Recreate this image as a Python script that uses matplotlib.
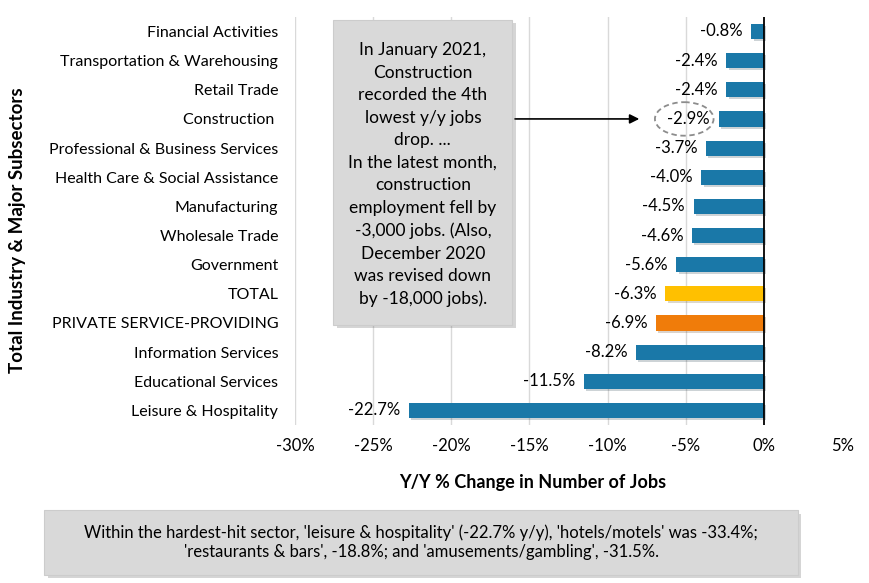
import numpy as np
import matplotlib
matplotlib.use("Agg")
import matplotlib.pyplot as plt
from matplotlib.patches import Rectangle, Ellipse
import matplotlib.patheffects as pe

sectors = ["Financial Activities", "Transportation & Warehousing", "Retail Trade",
           "Construction ", "Professional & Business Services",
           "Health Care & Social Assistance", "Manufacturing", "Wholesale Trade",
           "Government", "TOTAL", "PRIVATE SERVICE-PROVIDING", "Information Services",
           "Educational Services", "Leisure & Hospitality"]
change = [-0.8, -2.4, -2.4, -2.9, -3.7, -4.0, -4.5, -4.6, -5.6, -6.3, -6.9, -8.2, -11.5, -22.7]
xticks = [-30, -25, -20, -15, -10, -5, 0, 5]

blue = "#1a78a8"
colors = [blue] * len(sectors)
colors[sectors.index("TOTAL")] = "#ffc000"
colors[sectors.index("PRIVATE SERVICE-PROVIDING")] = "#f07c0a"

lab_font = "Lato"
box_font = "Lato"

fig = plt.figure(figsize=(8.7, 5.83), dpi=100)
ax = fig.add_axes([0.339, 0.271, 0.629, 0.700])

y = np.arange(len(sectors))
shadow = [pe.SimplePatchShadow(offset=(1.5, -1.5), alpha=0.2), pe.Normal()]
bars = ax.barh(y, change, height=0.52, color=colors, zorder=3)
for b in bars:
    b.set_path_effects(shadow)

for yi, v in zip(y, change):
    ax.text(v - 0.55, yi, f"{v:.1f}%", ha="right", va="center",
            fontsize=12, family=lab_font, zorder=4)

ax.set_xlim(-30, 5)
ax.set_ylim(len(sectors) - 0.5, -0.5)
ax.set_xticks(xticks)
ax.set_xticklabels([f"{t}%" for t in xticks], family=lab_font, fontsize=12)
ax.set_yticks(y)
ax.set_yticklabels(sectors, family=lab_font, fontsize=11.5)
ax.tick_params(length=0, pad=12)
ax.tick_params(axis="x", pad=9)

for t in xticks:
    if t not in (0, 5):
        ax.axvline(t, color="#d9d9d9", lw=1, zorder=1)
ax.axvline(0, color="black", lw=1.3, zorder=5)
for s in ax.spines.values():
    s.set_visible(False)

ax.set_xlabel("Y/Y % Change in Number of Jobs", fontsize=13, fontweight="bold",
              family=lab_font)
ax.xaxis.set_label_coords(0.435, -0.12)
fig.text(0.02, 0.605, "Total Industry & Major Subsectors", rotation=90, ha="center",
         va="center", fontsize=13.5, fontweight="bold", family=lab_font)

# annotation box
box = Rectangle((0.383, 0.443), 0.206, 0.523, transform=fig.transFigure,
                facecolor="#d9d9d9", edgecolor="#cccccc", lw=0.8, zorder=6)
box.set_path_effects([pe.SimplePatchShadow(offset=(2.5, -2.5), alpha=0.22), pe.Normal()])
fig.patches.append(box)
note = ("In January 2021,\nConstruction\nrecorded the 4th\nlowest y/y jobs\ndrop. ...\n"
        "In the latest month,\nconstruction\nemployment fell by\n-3,000 jobs. (Also,\n"
        "December 2020\nwas revised down\nby -18,000 jobs).")
fig.text(0.486, 0.700, note, ha="center", va="center", fontsize=12.5,
         linespacing=1.5, family=box_font, zorder=7)

ci = sectors.index("Construction ")
ax.annotate("", xy=(-7.8, ci), xytext=(-16.1, ci),
            arrowprops=dict(arrowstyle="-|>", color="black", lw=1.2, mutation_scale=14),
            zorder=7)
ax.add_patch(Ellipse((-5.1, ci), 3.75, 1.15, fill=False, ls=(0, (3, 2)),
                     edgecolor="#8c8c8c", lw=1.3, zorder=6))

# bottom note box
box2 = Rectangle((0.051, 0.014), 0.866, 0.111, transform=fig.transFigure,
                 facecolor="#d9d9d9", edgecolor="#cccccc", lw=0.8, zorder=6)
box2.set_path_effects([pe.SimplePatchShadow(offset=(2.5, -2.5), alpha=0.22), pe.Normal()])
fig.patches.append(box2)
fig.text(0.484, 0.070,
         "Within the hardest-hit sector, 'leisure & hospitality' (-22.7% y/y), 'hotels/motels' was -33.4%;\n"
         "'restaurants & bars', -18.8%; and 'amusements/gambling', -31.5%.",
         ha="center", va="center", fontsize=12, linespacing=1.25, family=box_font, zorder=7)

fig.savefig("out.png", dpi=100)
